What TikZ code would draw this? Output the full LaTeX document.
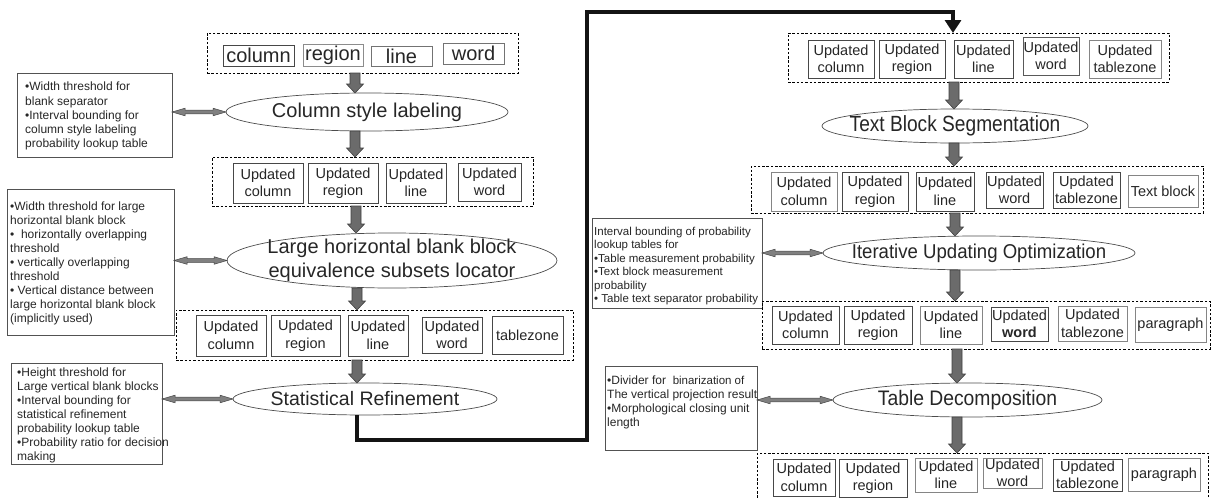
\documentclass[tikz,border=0pt]{standalone}
\usepackage{fontspec}
\setmainfont{Liberation Sans}
\usepackage{graphicx}
\usetikzlibrary{shapes.geometric,arrows.meta,calc}

\tikzset{
 dbox/.style={draw=black, dash pattern=on 2.5pt off 1.8pt, line width=0.7pt, inner sep=0, outer sep=0},
 ub/.style={draw=black!72, line width=0.95pt, inner sep=0, outer sep=0, align=center, font=\fontsize{14.5}{17.5}\selectfont, text=black!85},
 ul/.style={ub, draw=black!48, line width=0.75pt},
 wbox/.style={ub, font=\fontsize{20}{24}\selectfont},
 ell/.style={ellipse, draw=black!70, line width=0.7pt, inner sep=0, outer sep=0},
 etext/.style={font=\fontsize{20}{24.5}\selectfont, align=center, inner sep=0, text=black!85},
 pframe/.style={draw=black!68, line width=0.8pt, inner sep=0, outer sep=0},
 ptext/.style={font=\fontsize{12}{14.2}\selectfont, align=left, inner sep=0, anchor=north west, text=black!85},
 barrow/.style={fill=black!58, draw=black!75, line width=0.6pt},
 darrow/.style={fill=black!50, draw=black!72, line width=0.5pt},
 conn/.style={line width=4.5pt, draw=black!92, -{Triangle[width=16pt,length=13pt]}},
}

\newcommand\boxat[7]{\node[#6, minimum width={#4-#2}, minimum height={#5-#3}] (#1) at ({(#2+#4)/2},{(#3+#5)/2}) {#7};}
\newcommand\varr[3]{%
 \path[barrow] let \p1=(#3,0), \p2=(#1.south), \p3=(#2.north) in
 (\x1-5pt,\y2) -- (\x1-5pt,\y3+9pt) -- (\x1-8.5pt,\y3+9pt) -- (\x1,\y3) -- (\x1+8.5pt,\y3+9pt) -- (\x1+5pt,\y3+9pt) -- (\x1+5pt,\y2) -- cycle;}
\newcommand\harr[2]{%
 \path[darrow] let \p1=(#1.east), \p2=(#2.west) in
 (\x1,\y2) -- (\x1+13pt,\y2+3.8pt) -- (\x1+13pt,\y2+1.8pt) -- (\x2-13pt,\y2+1.8pt) -- (\x2-13pt,\y2+3.8pt) -- (\x2,\y2) -- (\x2-13pt,\y2-3.8pt) -- (\x2-13pt,\y2-1.8pt) -- (\x1+13pt,\y2-1.8pt) -- (\x1+13pt,\y2-3.8pt) -- cycle;}

\begin{document}
\begin{tikzpicture}[x=1pt,y=-1pt]
\useasboundingbox (0,0) rectangle (1213,498);
\clip (0,0) rectangle (1213,498);

% ---------- left column ----------
\boxat{D1}{207}{33}{518}{73}{dbox}{}
\boxat{t1}{223}{45}{294}{66}{wbox}{column}
\boxat{t2}{303}{44}{363}{66}{wbox, draw=black!45}{region}
\boxat{t3}{371}{46}{432}{66}{wbox, draw=black!55}{line}
\boxat{t4}{443}{43}{504}{64}{wbox, draw=black!55}{word}

\boxat{E1}{226}{93}{508}{131}{ell}{}
\node[etext] (E1t) at (E1.center) {Column style labeling};

\boxat{P1}{17}{73}{172}{157}{pframe}{}
\node[ptext] (P1t) at ([shift={(8,9)}]P1.north west) {•Width threshold for\\blank separator\\•Interval bounding for\\column style labeling\\probability lookup table};

\boxat{D2}{212}{157}{533}{206}{dbox}{}
\boxat{u1}{233}{163}{303}{203}{ub}{Updated\\column}
\boxat{u2}{308}{163}{378}{203}{ub}{Updated\\region}
\boxat{u3}{386}{163}{446}{203}{ub}{Updated\\line}
\boxat{u4}{458}{163}{521}{201}{ub}{Updated\\word}

\boxat{E2}{227}{233}{557}{288}{ell}{}
\node[etext] (E2t) at (E2.center) {Large horizontal blank block\\equivalence subsets locator};

\boxat{P2}{7}{189}{174}{335}{pframe}{}
\node[ptext, font=\fontsize{12}{14}\selectfont] (P2t) at ([shift={(3,13)}]P2.north west) {•Width threshold for large\\horizontal blank block\\•\ \ horizontally overlapping\\threshold\\• vertically overlapping\\threshold\\• Vertical distance between\\large horizontal blank block\\(implicitly used)};

\boxat{D3}{176}{310}{573}{360}{dbox}{}
\boxat{v1}{196}{315}{266}{356}{ub}{Updated\\column}
\boxat{v2}{271}{315}{340}{356}{ub}{Updated\\region}
\boxat{v3}{348}{315}{408}{356}{ub}{Updated\\line}
\boxat{v4}{422}{317}{482}{353}{ub}{Updated\\word}
\boxat{v5}{492}{316}{563}{354}{ub}{tablezone}

\boxat{E3}{233}{383}{497}{415}{ell}{}
\node[etext, font=\fontsize{19.5}{24}\selectfont] (E3t) at (E3.center) {Statistical Refinement};

\boxat{P3}{11}{363}{162}{464}{pframe}{}
\node[ptext, font=\fontsize{12}{13.9}\selectfont] (P3t) at ([shift={(6,5)}]P3.north west) {•Height threshold for\\Large vertical blank blocks\\•Interval bounding for\\statistical refinement\\probability lookup table\\•Probability ratio for decision\\making};

% ---------- right column ----------
\boxat{D4}{788}{33}{1169}{82}{dbox}{}
\boxat{w1}{808}{40}{874}{78}{ub}{Updated\\column}
\boxat{w2}{879}{40}{945}{78}{ub}{Updated\\region}
\boxat{w3}{954}{40}{1013}{78}{ub}{Updated\\line}
\boxat{w4}{1023}{37}{1079}{75}{ub, draw=black!65}{Updated\\word}
\boxat{w5}{1089}{40}{1161}{78}{ul}{Updated\\tablezone}

\boxat{E4}{822}{109}{1088}{143}{ell}{}
\node[etext] (E4t) at (E4.center) {\scalebox{0.87}[1]{\fontsize{22}{26}\selectfont Text Block Segmentation}};

\boxat{D5}{751}{166}{1203}{213}{dbox}{}
\boxat{x1}{771}{172}{837}{211}{ul}{Updated\\column}
\boxat{x2}{842}{172}{908}{211}{ub}{Updated\\region}
\boxat{x3}{916}{172}{974}{211}{ub}{Updated\\line}
\boxat{x4}{986}{172}{1043}{208}{ub}{Updated\\word}
\boxat{x5}{1053}{172}{1120}{208}{ub}{Updated\\tablezone}
\boxat{x6}{1128}{175}{1198}{207}{ul}{Text block}

\boxat{E5}{823}{236}{1135}{270}{ell}{}
\node[etext] (E5t) at (E5.center) {\scalebox{0.93}[1]{\fontsize{20}{24}\selectfont Iterative Updating Optimization}};

\boxat{Ra}{592}{218}{762}{308}{pframe}{}
\node[ptext, font=\fontsize{11.5}{13.4}\selectfont] (Rat) at ([shift={(2,9)}]Ra.north west) {Interval bounding of probability\\lookup tables for\\•Table measurement probability\\•Text block measurement\\probability\\• Table text separator probability};

\boxat{D6}{762}{301}{1210}{349}{dbox}{}
\boxat{y1}{772}{306}{839}{344}{ub}{Updated\\column}
\boxat{y2}{844}{306}{912}{344}{ub}{Updated\\region}
\boxat{y3}{920}{306}{982}{344}{ul}{Updated\\line}
\boxat{y4}{991}{307}{1048}{341}{ub}{Updated\\\textbf{word}}
\boxat{y5}{1058}{306}{1127}{341}{ul}{Updated\\tablezone}
\boxat{y6}{1135}{307}{1206}{342}{ul}{paragraph}

\boxat{E6}{833}{383}{1102}{417}{ell}{}
\node[etext] (E6t) at (E6.center) {\scalebox{0.92}[1]{\fontsize{21}{25}\selectfont Table Decomposition}};

\boxat{Rb}{605}{366}{757}{450}{pframe}{}
\node[ptext, font=\fontsize{12}{14}\selectfont] (Rbt) at ([shift={(2,10)}]Rb.north west) {•Divider for\ \ {\fontsize{11.5}{14}\selectfont binarization of}\\The vertical projection result\\•Morphological closing unit\\length};

\boxat{D7}{757}{453}{1208}{502}{dbox}{}
\boxat{z1}{773}{459}{835}{496}{ub}{Updated\\column}
\boxat{z2}{839}{459}{907}{497}{ub}{Updated\\region}
\boxat{z3}{915}{458}{977}{492}{ul}{Updated\\line}
\boxat{z4}{983}{458}{1042}{488}{ul}{Updated\\word}
\boxat{z5}{1053}{459}{1122}{491}{ub}{Updated\\tablezone}
\boxat{z6}{1128}{458}{1200}{491}{ul}{paragraph}

% ---------- block arrows ----------
\varr{D1}{E1}{355}
\varr{E1}{D2}{355}
\varr{D2}{E2}{356}
\varr{E2}{D3}{357}
\varr{D3}{E3}{357}
\varr{D4}{E4}{954}
\varr{E4}{D5}{954}
\varr{D5}{E5}{955}
\varr{E5}{D6}{955}
\varr{D6}{E6}{957}
\varr{E6}{D7}{957}

% ---------- double arrows ----------
\harr{P1}{E1}
\harr{P2}{E2}
\harr{P3}{E3}
\harr{Ra}{E5}
\harr{Rb}{E6}

% ---------- thick connector ----------
\coordinate (k1) at (587,440);
\coordinate (k2) at (953,12);
\draw[conn] ([xshift=-8pt]E3.south) |- (k1) |- (k2) -- (k2 |- D4.north);
\end{tikzpicture}
\end{document}
